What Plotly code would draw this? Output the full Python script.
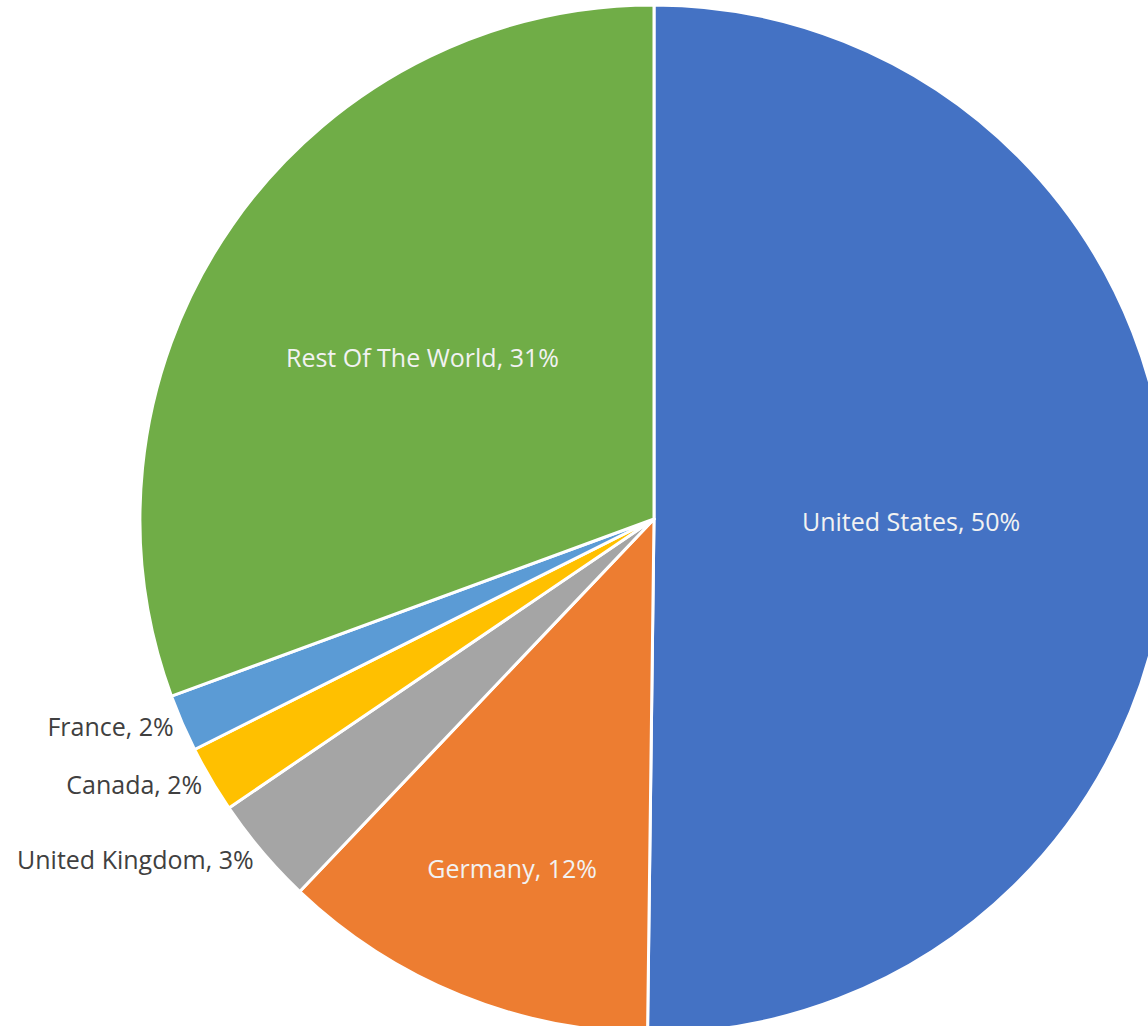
import plotly.graph_objects as go

countries = ["United States", "Germany", "United Kingdom", "Canada", "France", "Rest Of The World"]
shares = [50.2, 11.9, 3.4, 2.1, 1.8, 30.6]
slice_colors = ["#4472C4", "#ED7D31", "#A5A5A5", "#FFC000", "#5B9BD5", "#70AD47"]
label_pos = ["inside", "inside", "outside", "outside", "outside", "inside"]

# canvas is a bit wider/taller than the window so the pie gets cut on the right
W, H = 1180, 1040

fig = go.Figure(
    go.Pie(
        labels=countries,
        values=shares,
        sort=False,
        direction="clockwise",
        rotation=0,
        marker=dict(colors=slice_colors, line=dict(color="white", width=3)),
        texttemplate="%{label}, %{percent:.0%}",
        textposition=label_pos,
        insidetextorientation="horizontal",
        insidetextfont=dict(color="#F2F2F2", size=25),
        outsidetextfont=dict(color="#404040", size=25),
        showlegend=False,
        domain=dict(x=[138 / W, 1170 / W], y=[7 / H, 1039 / H]),
        hoverinfo="label+percent",
    )
)

fig.update_layout(
    width=W,
    height=H,
    margin=dict(l=0, r=0, t=0, b=0),
    paper_bgcolor="white",
    font=dict(family="Open Sans, Noto Sans, sans-serif", size=25),
)

fig.write_html(
    "out.html",
    config={"displayModeBar": False},
    post_script="document.body.style.margin='0';document.body.style.overflow='hidden';",
)
